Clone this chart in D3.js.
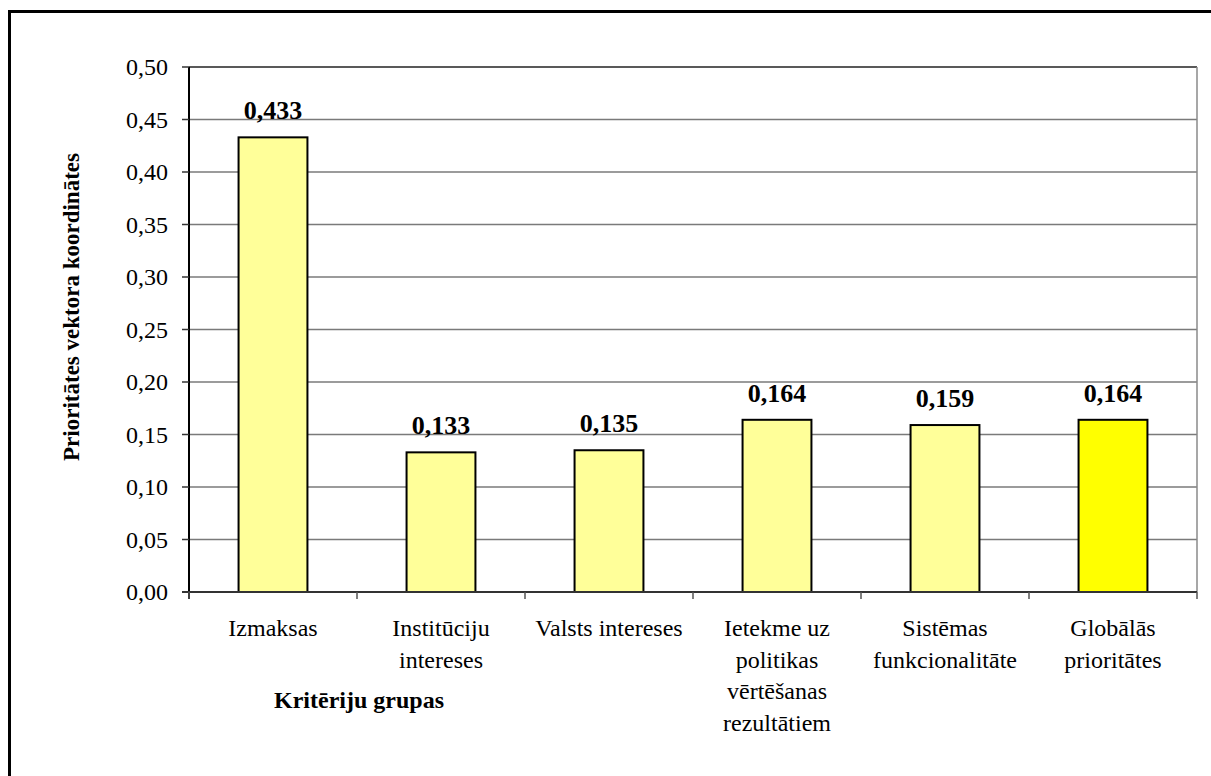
<!DOCTYPE html>
<html>
<head>
<meta charset="utf-8">
<script src="https://cdn.jsdelivr.net/npm/d3@7"></script>
<style>
  html, body { margin: 0; padding: 0; background: #fff; overflow: hidden; }
  svg { display: block; }
</style>
</head>
<body>
<svg id="chart" width="1211" height="776"></svg>
<script>
// Criteria groups, their priority vector coordinates and axis ticks
const categories = ["Izmaksas", "Institūciju intereses", "Valsts intereses",
  "Ietekme uz politikas vērtēšanas rezultātiem", "Sistēmas funkcionalitāte", "Globālās prioritātes"];
const categoryLines = [
  ["Izmaksas"],
  ["Institūciju", "intereses"],
  ["Valsts intereses"],
  ["Ietekme uz", "politikas", "vērtēšanas", "rezultātiem"],
  ["Sistēmas", "funkcionalitāte"],
  ["Globālās", "prioritātes"]
];
const values = [0.433, 0.133, 0.135, 0.164, 0.159, 0.164];
const valueLabels = ["0,433", "0,133", "0,135", "0,164", "0,159", "0,164"];
const yTicks = [0, 0.05, 0.10, 0.15, 0.20, 0.25, 0.30, 0.35, 0.40, 0.45, 0.50];
const yTitle = "Prioritātes vektora koordinātes";
const xTitle = "Kritēriju grupas";

const serif = "Times New Roman, Times, Tinos, Liberation Serif, DejaVu Serif, Noto Serif, FreeSerif, serif";
const svg = d3.select("#chart");
const plotLeft = 189, plotRight = 1197, plotTop = 67, plotBottom = 592;

// Outer chart frame (its right and bottom sides run past the page edge)
svg.append("path")
  .attr("d", "M9.5,900V11.5H1300")
  .attr("fill", "none").attr("stroke", "#000").attr("stroke-width", 3);

const x = d3.scaleBand().domain(categories).range([plotLeft, plotRight])
  .paddingInner(0.59).paddingOuter(0.295);
const xEdge = d3.scaleLinear().domain([0, categories.length]).range([plotLeft, plotRight]);
const y = d3.scaleLinear().domain([0, 0.5]).range([plotBottom, plotTop]);

// Horizontal gridlines
svg.append("g").selectAll("line").data(yTicks.filter(d => d > 0)).join("line")
  .attr("x1", plotLeft).attr("x2", plotRight)
  .attr("y1", d => y(d)).attr("y2", d => y(d))
  .attr("stroke", d => d === 0.5 ? "#222" : "#7a7a7a")
  .attr("stroke-width", 1.5);

// Right frame of the plot area
svg.append("line")
  .attr("x1", plotRight).attr("x2", plotRight).attr("y1", plotTop).attr("y2", plotBottom)
  .attr("stroke", "#8a8a8a").attr("stroke-width", 1.5);

// Bars
svg.append("g").selectAll("rect").data(values).join("rect")
  .attr("x", (d, i) => x(categories[i]))
  .attr("y", d => y(d))
  .attr("width", x.bandwidth())
  .attr("height", d => y(0) - y(d))
  .attr("fill", (d, i) => i === values.length - 1 ? "#ffff00" : "#ffff99")
  .attr("stroke", "#000").attr("stroke-width", 2);

// Value labels above bars
svg.append("g").selectAll("text").data(values).join("text")
  .attr("x", (d, i) => x(categories[i]) + x.bandwidth() / 2)
  .attr("y", d => y(d) - 18)
  .attr("text-anchor", "middle")
  .style("font-family", serif)
  .attr("font-size", 26).attr("font-weight", "bold")
  .text((d, i) => valueLabels[i]);

// Y axis line, ticks and labels
svg.append("line")
  .attr("x1", plotLeft).attr("x2", plotLeft).attr("y1", plotTop).attr("y2", plotBottom + 7)
  .attr("stroke", "#000").attr("stroke-width", 2);
svg.append("g").selectAll("line").data(yTicks).join("line")
  .attr("x1", plotLeft - 7).attr("x2", plotLeft)
  .attr("y1", d => y(d)).attr("y2", d => y(d))
  .attr("stroke", "#333").attr("stroke-width", 1.5);
svg.append("g").selectAll("text").data(yTicks).join("text")
  .attr("x", plotLeft - 21).attr("y", d => y(d))
  .attr("dy", "0.35em").attr("text-anchor", "end")
  .style("font-family", serif)
  .attr("font-size", 24)
  .text(d => d3.format(".2f")(d).replace(".", ","));

// X axis line and category boundary ticks
svg.append("line")
  .attr("x1", plotLeft - 7).attr("x2", plotRight).attr("y1", plotBottom).attr("y2", plotBottom)
  .attr("stroke", "#333").attr("stroke-width", 2);
svg.append("g").selectAll("line").data(d3.range(categories.length + 1)).join("line")
  .attr("x1", d => xEdge(d)).attr("x2", d => xEdge(d))
  .attr("y1", plotBottom).attr("y2", plotBottom + 7)
  .attr("stroke", "#555").attr("stroke-width", 1.5);

// Category labels, wrapped
const catG = svg.append("g").selectAll("text").data(categoryLines).join("text")
  .attr("text-anchor", "middle")
  .style("font-family", serif)
  .attr("font-size", 24)
  .attr("y", plotBottom + 44);
catG.selectAll("tspan").data((d, i) => d.map(line => ({ line, i }))).join("tspan")
  .attr("x", d => x(categories[d.i]) + x.bandwidth() / 2)
  .attr("dy", (d, j) => j === 0 ? 0 : 31.5)
  .text(d => d.line);

// Axis titles
svg.append("text")
  .attr("transform", "translate(79,307) rotate(-90)")
  .attr("text-anchor", "middle")
  .style("font-family", serif)
  .attr("font-size", 23).attr("font-weight", "bold")
  .text(yTitle);
svg.append("text")
  .attr("x", 359).attr("y", 708)
  .attr("text-anchor", "middle")
  .style("font-family", serif)
  .attr("font-size", 24).attr("font-weight", "bold")
  .text(xTitle);
</script>
</body>
</html>
